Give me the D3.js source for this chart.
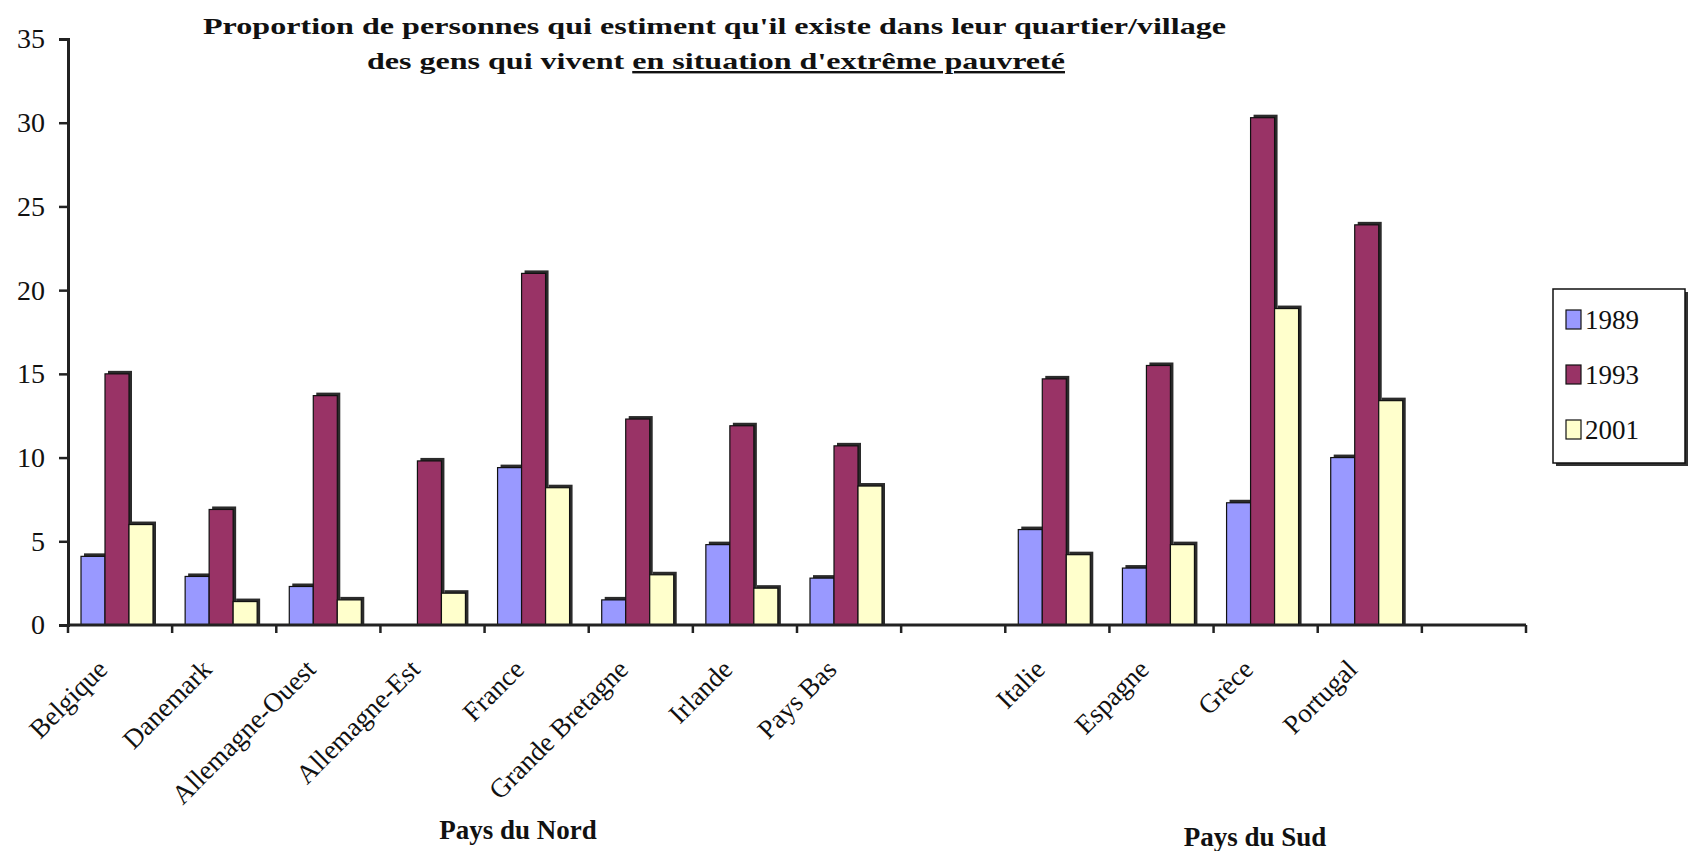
<!DOCTYPE html>
<html>
<head>
<meta charset="utf-8">
<script src="https://cdn.jsdelivr.net/npm/d3@7"></script>
<style>
  html, body { margin: 0; padding: 0; background: #fff; }
  svg { display: block; }
  text { font-family: "Liberation Serif", "Times New Roman", serif; fill: #111; }
</style>
</head>
<body>
<svg id="chart" width="1691" height="851"></svg>
<script>
// Countries (blank entries are empty slots on the category axis)
const categories = ["Belgique", "Danemark", "Allemagne-Ouest", "Allemagne-Est", "France",
  "Grande Bretagne", "Irlande", "Pays Bas", "", "Italie", "Espagne", "Grèce", "Portugal", ""];
const years = ["1989", "1993", "2001"];
const values1989 = [4.1, 2.9, 2.3, null, 9.4, 1.5, 4.8, 2.8, null, 5.7, 3.4, 7.3, 10.0, null];
const values1993 = [15.0, 6.9, 13.7, 9.8, 21.0, 12.3, 11.9, 10.7, null, 14.7, 15.5, 30.3, 23.9, null];
const values2001 = [6.0, 1.4, 1.5, 1.9, 8.2, 3.0, 2.2, 8.3, null, 4.2, 4.8, 18.9, 13.4, null];
const yTicks = [0, 5, 10, 15, 20, 25, 30, 35];
const seriesColors = ["#9999FF", "#993366", "#FFFFCC"];
const groupLabels = ["Pays du Nord", "Pays du Sud"];

const series = [values1989, values1993, values2001];

const svg = d3.select("#chart");
const plotLeft = 68, plotRight = 1526, plotTop = 39, plotBottom = 625;

const x0 = d3.scaleBand().domain(d3.range(categories.length)).range([plotLeft, plotRight]).padding(0);
const x1 = d3.scaleBand().domain(years).range([13, 13 + 72]).padding(0);
const y = d3.scaleLinear().domain([0, 35]).range([plotBottom, plotTop]);
const color = d3.scaleOrdinal().domain(years).range(seriesColors);

// Title
const title = svg.append("g").attr("font-weight", "bold").attr("font-size", 24);
title.append("text")
  .attr("x", 203).attr("y", 34)
  .attr("textLength", 1023).attr("lengthAdjust", "spacingAndGlyphs")
  .text("Proportion de personnes qui estiment qu'il existe dans leur quartier/village");
const t2 = title.append("text")
  .attr("x", 367).attr("y", 69)
  .attr("textLength", 698).attr("lengthAdjust", "spacingAndGlyphs");
t2.append("tspan").text("des gens qui vivent ");
t2.append("tspan").style("text-decoration", "underline").text("en situation d'extrême pauvreté");

// Bars with a dark extruded shadow
const bars = [];
categories.forEach((c, i) => {
  series.forEach((s, k) => {
    if (s[i] != null) bars.push({ i, year: years[k], v: s[i] });
  });
});
const barG = svg.append("g");
barG.selectAll("rect.shadow").data(bars).join("rect")
  .attr("class", "shadow")
  .attr("x", d => x0(d.i) + x1(d.year) + 3)
  .attr("y", d => y(d.v) - 3)
  .attr("width", x1.bandwidth())
  .attr("height", d => y(0) - y(d.v) + 3)
  .attr("fill", "#2b2b2b");
barG.selectAll("rect.bar").data(bars).join("rect")
  .attr("class", "bar")
  .attr("x", d => x0(d.i) + x1(d.year))
  .attr("y", d => y(d.v))
  .attr("width", x1.bandwidth())
  .attr("height", d => y(0) - y(d.v))
  .attr("fill", d => color(d.year))
  .attr("stroke", "#111").attr("stroke-width", 1.2);

// Y axis
const yAxis = d3.axisLeft(y).tickValues(yTicks).tickSize(9).tickPadding(14).tickFormat(d3.format("d"));
const yg = svg.append("g").attr("transform", `translate(${plotLeft},0)`).call(yAxis);
yg.select(".domain").attr("stroke", "#222").attr("stroke-width", 3);
yg.selectAll(".tick line").attr("stroke", "#222").attr("stroke-width", 2.5);
yg.selectAll(".tick text").attr("font-size", 28).attr("font-family", "Liberation Serif").attr("fill", "#222");

// X axis: ticks at slot boundaries
const boundaries = d3.range(categories.length + 1).map(i => plotLeft + i * x0.step());
const xg = svg.append("g");
xg.append("line").attr("x1", plotLeft).attr("x2", plotRight).attr("y1", plotBottom).attr("y2", plotBottom)
  .attr("stroke", "#222").attr("stroke-width", 3);
xg.selectAll("line.tk").data(boundaries).join("line").attr("class", "tk")
  .attr("x1", d => d).attr("x2", d => d).attr("y1", plotBottom).attr("y2", plotBottom + 8)
  .attr("stroke", "#222").attr("stroke-width", 2.5);

// Rotated country labels
xg.selectAll("text.cat").data(categories.map((c, i) => ({ c, i })).filter(d => d.c))
  .join("text").attr("class", "cat")
  .attr("transform", d => `translate(${x0(d.i) + x0.bandwidth() / 2 - 11},${plotBottom + 46}) rotate(-45)`)
  .attr("text-anchor", "end")
  .attr("font-size", 27)
  .attr("fill", "#222")
  .text(d => d.c);

// Group labels
svg.append("text").attr("x", 518).attr("y", 839).attr("text-anchor", "middle")
  .attr("font-weight", "bold").attr("font-size", 27).text(groupLabels[0]);
svg.append("text").attr("x", 1255).attr("y", 846).attr("text-anchor", "middle")
  .attr("font-weight", "bold").attr("font-size", 27).text(groupLabels[1]);

// Legend
const lg = svg.append("g").attr("transform", "translate(1553,289)");
lg.append("rect").attr("x", 3).attr("y", 3).attr("width", 132).attr("height", 174).attr("fill", "#333");
lg.append("rect").attr("width", 132).attr("height", 174).attr("fill", "#fff")
  .attr("stroke", "#111").attr("stroke-width", 1.5);
const li = lg.selectAll("g.item").data(years).join("g").attr("class", "item")
  .attr("transform", (d, k) => `translate(0,${31 + k * 55})`);
li.append("rect").attr("x", 13).attr("y", -10).attr("width", 15).attr("height", 19)
  .attr("fill", d => color(d)).attr("stroke", "#111").attr("stroke-width", 1.2);
li.append("text").attr("x", 32).attr("y", 9).attr("font-size", 27).attr("fill", "#222").text(d => d);
</script>
</body>
</html>
